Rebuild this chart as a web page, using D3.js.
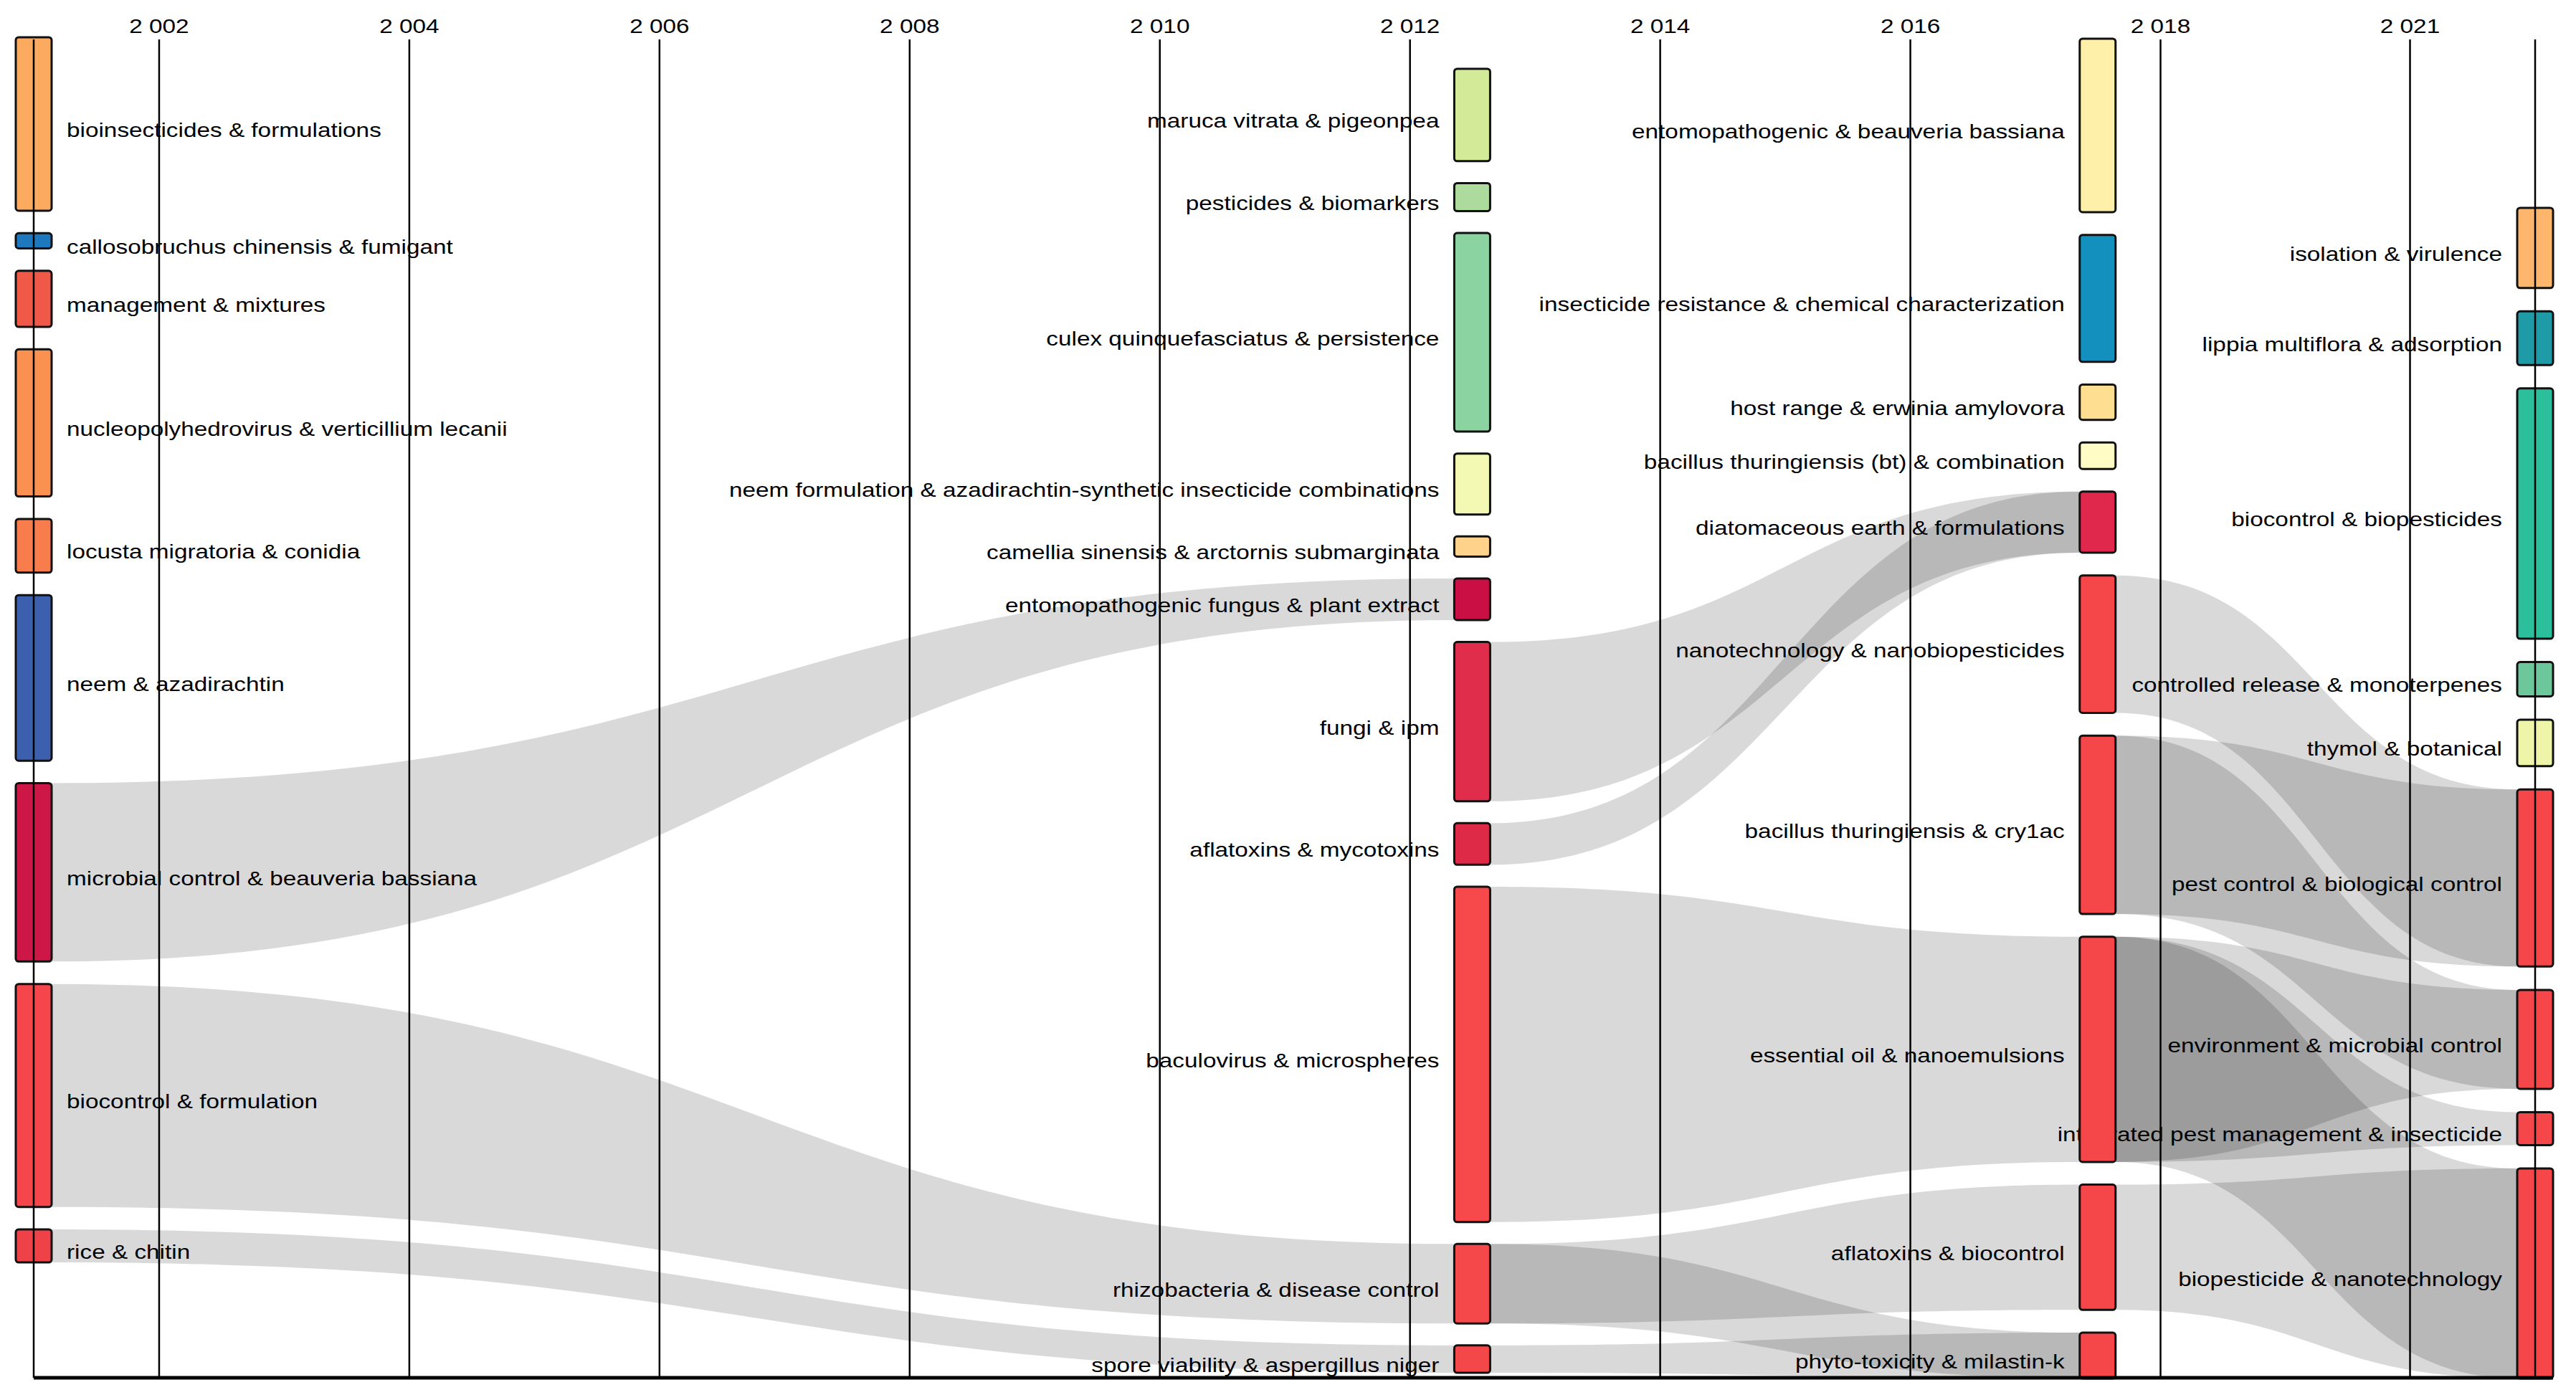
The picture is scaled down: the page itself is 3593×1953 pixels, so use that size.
<!DOCTYPE html>
<html>
<head>
<meta charset="utf-8">
<script src="https://cdn.jsdelivr.net/npm/d3@7"></script>
<style>
  html, body { margin: 0; padding: 0; background: #fff; }
  svg { display: block; }
</style>
</head>
<body>
<svg id="chart"></svg>
<script>
// ---------------- DATA ----------------
const tickYears = [2002, 2004, 2006, 2008, 2010, 2012, 2014, 2016, 2018, 2021];
const periodYears = [2001, 2012.5, 2017.5, 2022.5];

const themes1 = ["bioinsecticides & formulations", "callosobruchus chinensis & fumigant", "management & mixtures",
  "nucleopolyhedrovirus & verticillium lecanii", "locusta migratoria & conidia", "neem & azadirachtin",
  "microbial control & beauveria bassiana", "biocontrol & formulation", "rice & chitin"];
const weights1 = [52.6, 4.6, 17.0, 44.6, 16.3, 50.2, 54.1, 67.6, 10.0];

const themes2 = ["maruca vitrata & pigeonpea", "pesticides & biomarkers", "culex quinquefasciatus & persistence",
  "neem formulation & azadirachtin-synthetic insecticide combinations", "camellia sinensis & arctornis submarginata",
  "entomopathogenic fungus & plant extract", "fungi & ipm", "aflatoxins & mycotoxins", "baculovirus & microspheres",
  "rhizobacteria & disease control", "spore viability & aspergillus niger"];
const weights2 = [28.0, 8.5, 60.2, 18.5, 6.1, 12.6, 48.3, 12.6, 101.7, 24.1, 8.3];

const themes3 = ["entomopathogenic & beauveria bassiana", "insecticide resistance & chemical characterization",
  "host range & erwinia amylovora", "bacillus thuringiensis (bt) & combination", "diatomaceous earth & formulations",
  "nanotechnology & nanobiopesticides", "bacillus thuringiensis & cry1ac", "essential oil & nanoemulsions",
  "aflatoxins & biocontrol", "phyto-toxicity & milastin-k"];
const weights3 = [52.6, 38.5, 10.7, 8.0, 18.5, 41.7, 54.1, 68.3, 38.0, 13.9];

const themes4 = ["isolation & virulence", "lippia multiflora & adsorption", "biocontrol & biopesticides",
  "controlled release & monoterpenes", "thymol & botanical", "pest control & biological control",
  "environment & microbial control", "integrated pest management & insecticide", "biopesticide & nanotechnology"];
const weights4 = [24.3, 16.3, 75.9, 10.4, 14.1, 53.7, 30.0, 10.0, 63.7];

// links: [source period index, source theme, target theme (next period)]
const links = [
  [0, "microbial control & beauveria bassiana", "entomopathogenic fungus & plant extract"],
  [0, "biocontrol & formulation", "rhizobacteria & disease control"],
  [0, "rice & chitin", "spore viability & aspergillus niger"],
  [1, "fungi & ipm", "diatomaceous earth & formulations"],
  [1, "aflatoxins & mycotoxins", "diatomaceous earth & formulations"],
  [1, "baculovirus & microspheres", "essential oil & nanoemulsions"],
  [1, "rhizobacteria & disease control", "aflatoxins & biocontrol"],
  [1, "rhizobacteria & disease control", "phyto-toxicity & milastin-k"],
  [1, "spore viability & aspergillus niger", "phyto-toxicity & milastin-k"],
  [2, "nanotechnology & nanobiopesticides", "pest control & biological control"],
  [2, "bacillus thuringiensis & cry1ac", "pest control & biological control"],
  [2, "bacillus thuringiensis & cry1ac", "environment & microbial control"],
  [2, "essential oil & nanoemulsions", "environment & microbial control"],
  [2, "essential oil & nanoemulsions", "integrated pest management & insecticide"],
  [2, "essential oil & nanoemulsions", "biopesticide & nanotechnology"],
  [2, "aflatoxins & biocontrol", "biopesticide & nanotechnology"]
];

// ---------------- STYLE ----------------
const colors1 = ["#FBAA5F", "#1E78BE", "#F05848", "#FA9151", "#F87C4C", "#3C60AD", "#CC1747", "#F5474B", "#EE4248"];
const colors2 = ["#D3EB98", "#ADDB9E", "#8CD3A2", "#F3F8B3", "#FED28A", "#C90F44", "#E02D4B", "#DF2A47", "#F7484B", "#F5484A", "#F4474A"];
const colors3 = ["#FEF0A8", "#1490BE", "#FEDE90", "#FFFCC6", "#E0284C", "#F5474A", "#F5474A", "#F5474A", "#F5474A", "#F5474A"];
const colors4 = ["#FDB66C", "#1E9BA6", "#2CBF9C", "#6CC89A", "#EEF5A8", "#F5474A", "#F5474A", "#F5474A", "#F5474A"];

const W = 3593, H = 1953;
const FONT = "'Liberation Sans', Arial, Helvetica, sans-serif";
const FS = 28, STRETCH = 1.19;
const gridTop = 55, axisY = 1922;
const nodeW = 50;
// vertical extent of each column of themes (layout)
const colExtent = [[52, 1761], [96, 1915], [54, 1923], [290, 1923]];

const svg = d3.select("#chart").attr("width", W).attr("height", H)
  .attr("viewBox", `0 0 ${W} ${H}`);
svg.append("rect").attr("width", W).attr("height", H).attr("fill", "#fff");

const x = d3.scaleLinear().domain([2001, 2018, 2021, 2022.5]).range([47, 3013, 3361, 3536]);
const h = d3.scaleLinear().domain([0, 100]).range([0, 460]);

// ---------------- LAYOUT ----------------
const columns = [
  {names: themes1, w: weights1, c: colors1},
  {names: themes2, w: weights2, c: colors2},
  {names: themes3, w: weights3, c: colors3},
  {names: themes4, w: weights4, c: colors4}
];
const nodeIndex = columns.map(() => new Map());
const allNodes = [];
columns.forEach((col, ci) => {
  const heights = col.w.map(v => h(v));
  const total = d3.sum(heights);
  const [top, bottom] = colExtent[ci];
  const pad = (bottom - top - total) / (heights.length - 1);
  let y = top;
  const cx = x(periodYears[ci]);
  col.names.forEach((name, i) => {
    const n = {name, col: ci, x0: cx - nodeW / 2, x1: cx + nodeW / 2, y0: y, y1: y + heights[i], color: col.c[i]};
    y += heights[i] + pad;
    nodeIndex[ci].set(name, n);
    allNodes.push(n);
  });
});

// ---------------- LINKS ----------------
function ribbon(s, t) {
  const x0 = s.x1, x1 = t.x0, xm = (x0 + x1) / 2;
  const p = d3.path();
  p.moveTo(x0, s.y0);
  p.bezierCurveTo(xm, s.y0, xm, t.y0, x1, t.y0);
  p.lineTo(x1, t.y1);
  p.bezierCurveTo(xm, t.y1, xm, s.y1, x0, s.y1);
  p.closePath();
  return p.toString();
}
svg.append("g").selectAll("path").data(links).join("path")
  .attr("d", d => ribbon(nodeIndex[d[0]].get(d[1]), nodeIndex[d[0] + 1].get(d[2])))
  .attr("fill", "#000").attr("fill-opacity", 0.15);

// ---------------- LABELS ----------------
svg.append("g").selectAll("g").data(allNodes).join("g")
  .attr("transform", d => {
    const tx = d.col === 0 ? d.x1 + 21 : d.x0 - 21;
    const ty = (d.y0 + d.y1) / 2 + 18;
    return `translate(${tx},${ty}) scale(${STRETCH},1)`;
  })
  .append("text")
  .attr("text-anchor", d => d.col === 0 ? "start" : "end")
  .attr("font-family", FONT).attr("font-size", FS).attr("fill", "#000")
  .text(d => d.name);

// ---------------- NODES ----------------
svg.append("g").selectAll("rect").data(allNodes).join("rect")
  .attr("x", d => d.x0).attr("y", d => d.y0)
  .attr("width", nodeW).attr("height", d => d.y1 - d.y0)
  .attr("rx", 4).attr("ry", 4)
  .attr("fill", d => d.color).attr("stroke", "#111").attr("stroke-width", 3);

// ---------------- GRID / AXIS ----------------
const fmt = d3.formatLocale({decimal: ",", thousands: " ", grouping: [3], currency: ["", ""]}).format(",");
const gx = svg.append("g").attr("transform", `translate(0,${gridTop})`)
  .call(d3.axisTop(x).tickValues(tickYears).tickFormat(fmt)
    .tickSize(-(axisY - gridTop)).tickPadding(9));
gx.select(".domain").remove();
gx.selectAll(".tick line").attr("stroke", "#000").attr("stroke-width", 2.5);
gx.selectAll(".tick text")
  .attr("font-family", FONT).attr("font-size", FS).attr("fill", "#000")
  .attr("transform", `scale(${STRETCH},1)`);

svg.append("g").selectAll("line").data([periodYears[0], periodYears[3]]).join("line")
  .attr("x1", d => x(d)).attr("x2", d => x(d))
  .attr("y1", gridTop).attr("y2", axisY)
  .attr("stroke", "#000").attr("stroke-width", 2.5);

svg.append("line")
  .attr("x1", x(periodYears[0])).attr("x2", x(periodYears[3]) + nodeW / 2)
  .attr("y1", axisY).attr("y2", axisY)
  .attr("stroke", "#000").attr("stroke-width", 5);
</script>
</body>
</html>
